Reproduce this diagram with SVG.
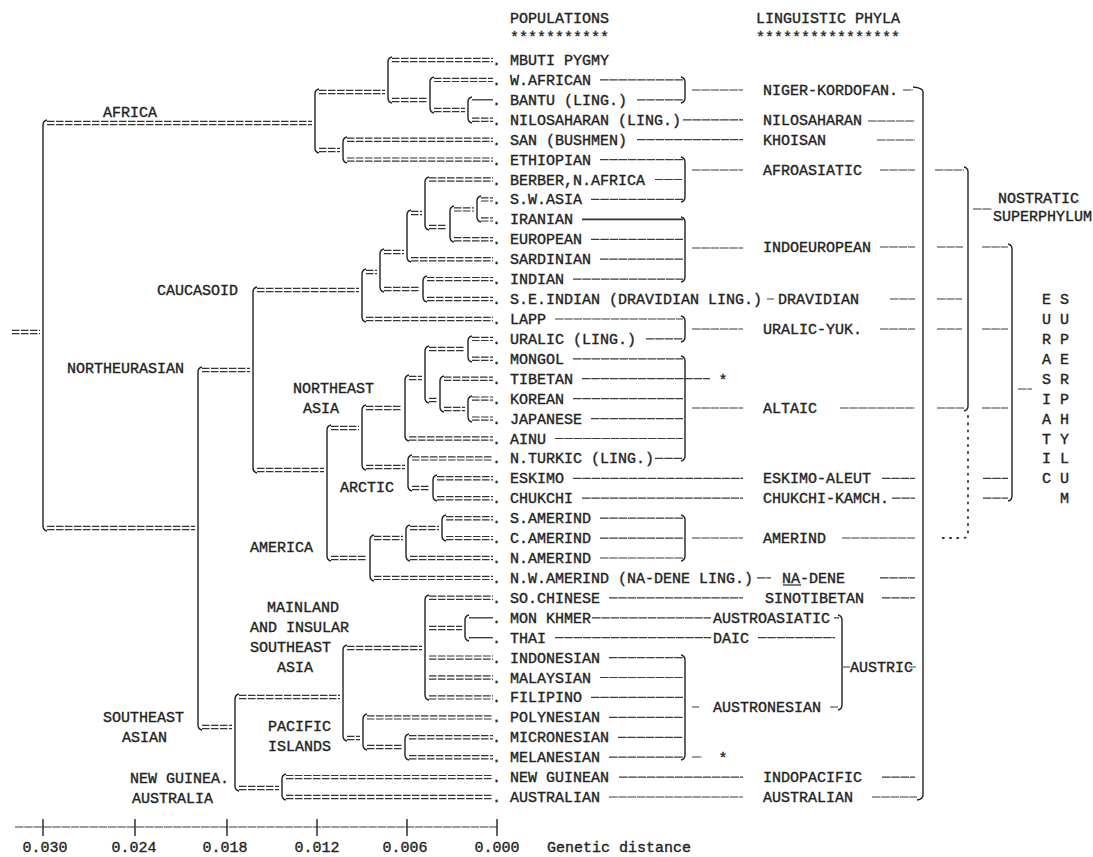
<svg xmlns="http://www.w3.org/2000/svg" width="1093" height="857" viewBox="0 0 1093 857">
<style>
.t{font-family:"Liberation Mono","DejaVu Sans Mono",monospace;font-size:15px;fill:#222;stroke:#222;stroke-width:0.35}
.eq{fill:none;stroke:#333;stroke-width:1.2;stroke-dasharray:7.5 1.5}
.sg{fill:none;stroke:#333;stroke-width:1.3}
.vt{fill:none;stroke:#222;stroke-width:1.4}
.ld{fill:none;stroke:#3a3a3a;stroke-width:1.2;stroke-dasharray:8.5 0.8}
.dt{fill:none;stroke:#333;stroke-width:1.8;stroke-dasharray:1.2 6;stroke-linecap:round}
</style>
<rect width="1093" height="857" fill="#fff"/>
<g id="connectors">
<path class="vt" d="M47 120 Q43 121 43 125 V526 Q43 530 47 531"/>
<path class="vt" d="M319 89 Q315 90 315 94 V148 Q315 152 319 153"/>
<path class="vt" d="M392 57 Q388 58 388 62 V98 Q388 102 392 103"/>
<path class="vt" d="M434 77 Q430 78 430 82 V108 Q430 112 434 113"/>
<path class="vt" d="M472 97 Q468 98 468 102 V118 Q468 122 472 123"/>
<path class="vt" d="M347 137 Q343 138 343 142 V158 Q343 162 347 163"/>
<path class="vt" d="M202 367 Q198 368 198 372 V725 Q198 729 202 730"/>
<path class="vt" d="M257 287 Q253 288 253 292 V468 Q253 472 257 473"/>
<path class="vt" d="M366 269 Q362 270 362 274 V317 Q362 321 366 322"/>
<path class="vt" d="M384 249 Q380 250 380 254 V287 Q380 291 384 292"/>
<path class="vt" d="M411 210 Q407 211 407 215 V257 Q407 261 411 262"/>
<path class="vt" d="M429 177 Q425 178 425 182 V225 Q425 229 429 230"/>
<path class="vt" d="M454 206 Q450 207 450 211 V237 Q450 241 454 242"/>
<path class="vt" d="M481 196 Q477 197 477 201 V217 Q477 221 481 222"/>
<path class="vt" d="M427 276 Q423 277 423 281 V297 Q423 301 427 302"/>
<path class="vt" d="M331 425 Q327 426 327 430 V556 Q327 560 331 561"/>
<path class="vt" d="M366 405 Q362 406 362 410 V465 Q362 469 366 470"/>
<path class="vt" d="M409 375 Q405 376 405 380 V436 Q405 440 409 441"/>
<path class="vt" d="M429 346 Q425 347 425 351 V398 Q425 402 429 403"/>
<path class="vt" d="M472 336 Q468 337 468 341 V357 Q468 361 472 362"/>
<path class="vt" d="M444 376 Q440 377 440 381 V407 Q440 411 444 412"/>
<path class="vt" d="M472 396 Q468 397 468 401 V417 Q468 421 472 422"/>
<path class="vt" d="M412 455 Q408 456 408 460 V486 Q408 490 412 491"/>
<path class="vt" d="M437 475 Q433 476 433 480 V496 Q433 500 437 501"/>
<path class="vt" d="M374 535 Q370 536 370 540 V576 Q370 580 374 581"/>
<path class="vt" d="M410 525 Q406 526 406 530 V556 Q406 560 410 561"/>
<path class="vt" d="M446 515 Q442 516 442 520 V536 Q442 540 446 541"/>
<path class="vt" d="M239 694 Q235 695 235 699 V786 Q235 790 239 791"/>
<path class="vt" d="M347 645 Q343 646 343 650 V736 Q343 740 347 741"/>
<path class="vt" d="M429 595 Q425 596 425 600 V695 Q425 699 429 700"/>
<path class="vt" d="M469 615 Q465 616 465 620 V636 Q465 640 469 641"/>
<path class="vt" d="M367 714 Q363 715 363 719 V745 Q363 749 367 750"/>
<path class="vt" d="M409 734 Q405 735 405 739 V755 Q405 759 409 760"/>
<path class="vt" d="M286 774 Q282 775 282 779 V795 Q282 799 286 800"/>
<path class="eq" d="M12 330.4 H40 M12 333.6 H40"/>
<path class="eq" d="M47 121.4 H312 M47 124.6 H312"/>
<path class="eq" d="M47 526.4 H195 M47 529.6 H195"/>
<path class="eq" d="M319 90.4 H385 M319 93.6 H385"/>
<path class="eq" d="M319 148.4 H340 M319 151.6 H340"/>
<path class="eq" d="M392 58.4 H493 M392 61.6 H493"/>
<path class="eq" d="M392 98.4 H427 M392 101.6 H427"/>
<path class="eq" d="M434 78.3 H493 M434 81.5 H493"/>
<path class="eq" d="M434 108.4 H465 M434 111.6 H465"/>
<path class="sg" d="M472 99.8 H493"/>
<path class="eq" d="M472 118.2 H493 M472 121.4 H493"/>
<path class="eq" d="M347 138.1 H493 M347 141.3 H493"/>
<path class="eq" d="M347 158 H493 M347 161.2 H493"/>
<path class="eq" d="M202 368.4 H250 M202 371.6 H250"/>
<path class="eq" d="M202 725.4 H232 M202 728.6 H232"/>
<path class="eq" d="M257 288.4 H359 M257 291.6 H359"/>
<path class="eq" d="M257 468.4 H324 M257 471.6 H324"/>
<path class="eq" d="M366 270.4 H377 M366 273.6 H377"/>
<path class="eq" d="M366 317.4 H493 M366 320.6 H493"/>
<path class="eq" d="M384 250.4 H404 M384 253.6 H404"/>
<path class="eq" d="M384 287.4 H420 M384 290.6 H420"/>
<path class="eq" d="M411 211.4 H422 M411 214.6 H422"/>
<path class="eq" d="M411 257.6 H493 M411 260.8 H493"/>
<path class="eq" d="M429 177.9 H493 M429 181.1 H493"/>
<path class="eq" d="M429 225.4 H447 M429 228.6 H447"/>
<path class="eq" d="M454 207.8 H474 M454 211 H474"/>
<path class="eq" d="M454 237.7 H493 M454 240.9 H493"/>
<path class="eq" d="M481 197.8 H493 M481 201 H493"/>
<path class="eq" d="M481 217.8 H493 M481 221 H493"/>
<path class="eq" d="M427 277.5 H493 M427 280.7 H493"/>
<path class="eq" d="M427 297.4 H493 M427 300.6 H493"/>
<path class="eq" d="M331 426.4 H359 M331 429.6 H359"/>
<path class="eq" d="M331 556.4 H367 M331 559.6 H367"/>
<path class="eq" d="M366 406.4 H402 M366 409.6 H402"/>
<path class="eq" d="M366 465.4 H405 M366 468.6 H405"/>
<path class="eq" d="M409 376.4 H422 M409 379.6 H422"/>
<path class="eq" d="M409 436.9 H493 M409 440.1 H493"/>
<path class="eq" d="M429 347.4 H465 M429 350.6 H465"/>
<path class="eq" d="M429 398.4 H437 M429 401.6 H437"/>
<path class="eq" d="M472 337.3 H493 M472 340.5 H493"/>
<path class="eq" d="M472 357.2 H493 M472 360.4 H493"/>
<path class="eq" d="M444 377.1 H493 M444 380.3 H493"/>
<path class="eq" d="M444 407.4 H465 M444 410.6 H465"/>
<path class="eq" d="M472 397 H493 M472 400.2 H493"/>
<path class="eq" d="M472 417 H493 M472 420.2 H493"/>
<path class="eq" d="M412 456.8 H493 M412 460 H493"/>
<path class="eq" d="M412 486.4 H430 M412 489.6 H430"/>
<path class="eq" d="M437 476.7 H493 M437 479.9 H493"/>
<path class="eq" d="M437 496.6 H493 M437 499.8 H493"/>
<path class="eq" d="M374 536.4 H403 M374 539.6 H403"/>
<path class="eq" d="M374 576.3 H493 M374 579.5 H493"/>
<path class="eq" d="M410 526.4 H439 M410 529.6 H439"/>
<path class="eq" d="M410 556.4 H493 M410 559.6 H493"/>
<path class="eq" d="M446 516.6 H493 M446 519.8 H493"/>
<path class="eq" d="M446 536.5 H493 M446 539.7 H493"/>
<path class="eq" d="M239 695.4 H340 M239 698.6 H340"/>
<path class="eq" d="M239 786.4 H279 M239 789.6 H279"/>
<path class="eq" d="M347 646.4 H422 M347 649.6 H422"/>
<path class="eq" d="M347 736.4 H360 M347 739.6 H360"/>
<path class="eq" d="M429 596.2 H493 M429 599.4 H493"/>
<path class="eq" d="M429 626.4 H462 M429 629.6 H462"/>
<path class="eq" d="M429 656 H493 M429 659.2 H493"/>
<path class="eq" d="M429 675.9 H493 M429 679.1 H493"/>
<path class="eq" d="M429 695.8 H493 M429 699 H493"/>
<path class="sg" d="M469 617.8 H493"/>
<path class="sg" d="M469 637.7 H493"/>
<path class="eq" d="M367 715.8 H493 M367 719 H493"/>
<path class="eq" d="M367 745.4 H402 M367 748.6 H402"/>
<path class="eq" d="M409 735.7 H493 M409 738.9 H493"/>
<path class="eq" d="M409 755.6 H493 M409 758.8 H493"/>
<path class="eq" d="M286 775.5 H493 M286 778.7 H493"/>
<path class="eq" d="M286 795.4 H493 M286 798.6 H493"/>
<path class="vt" d="M681 77 Q685 78 685 82 V98 Q685 102 681 103"/>
<path class="vt" d="M681 157 Q685 158 685 162 V197 Q685 201 681 202"/>
<path class="vt" d="M681 217 Q685 218 685 222 V277 Q685 281 681 282"/>
<path class="vt" d="M681 316 Q685 317 685 321 V337 Q685 341 681 342"/>
<path class="vt" d="M681 356 Q685 357 685 361 V456 Q685 460 681 461"/>
<path class="vt" d="M681 515 Q685 516 685 520 V556 Q685 560 681 561"/>
<path class="vt" d="M681 655 Q685 656 685 660 V755 Q685 759 681 760"/>
<path class="ld" d="M600 79.9 H683 M637 99.8 H683 M683 119.8 H743 M637 139.7 H743 M600 159.6 H683 M655 179.5 H683 M591 199.4 H683 M591 239.3 H683 M600 259.2 H683 M573 279.1 H683 M767 299 H774 M555 319 H683 M646 338.9 H683 M573 358.8 H683 M582 378.7 H710 M573 398.6 H683 M591 418.6 H683 M555 438.5 H683 M655 458.4 H683 M573 478.3 H743 M582 498.2 H743 M600 518.2 H683 M600 538.1 H683 M600 558 H683 M757 577.9 H771 M609 597.8 H743 M592 617.8 H711 M555 637.7 H711 M609 657.6 H683 M600 677.5 H683 M591 697.4 H683 M609 717.4 H683 M618 737.3 H683 M609 757.2 H683 M619 777.1 H743 M609 797 H743"/>
<path class="sg" d="M582 219.4 H683" style="stroke-width:1.7"/>
<path class="ld" d="M692 90 H743 M692 170 H743 M692 248 H743 M692 329 H743 M692 408 H743 M692 538 H743 M692 707 H699 M692 757 H702"/>
<path class="ld" d="M903 90 H913 M868 121 H915 M877 140 H915 M880 170 H915 M880 247 H915 M890 299 H915 M880 329 H915 M840 408 H915 M882 478.3 H915 M892 498.2 H915 M842 538 H915 M880 577.9 H915 M882 597.8 H915 M882 777.1 H915 M872 797 H917"/>
<path class="ld" d="M834 617.8 H839 M758 637.7 H835 M843 667 H850 M909 667 H916 M830 707 H838"/>
<path class="sg" d="M783 585 H801"/>
<path class="vt" d="M838 615 Q842 616 842 620 V705 Q842 709 838 710"/>
<path class="vt" d="M913 87 Q923 88 923 92 V795 Q923 799 917 800"/>
<path class="vt" d="M964 167 Q968 168 968 172 V406 Q968 410 964 411"/>
<path class="dt" d="M968 416 V533 Q968 538 963 538 H940"/>
<path class="vt" d="M1008 244 Q1012 245 1012 249 V496 Q1012 500 1008 501"/>
<path class="ld" d="M935 170 H964 M937 247 H963 M937 299 H962 M937 329 H962 M937 408 H964 M982 247 H1008 M982 329 H1008 M982 408 H1008 M983 478.3 H1008 M983 498.2 H1008 M973 209 H992 M1018 389 H1032"/>
<path class="ld" d="M15 827 H497"/>
<path class="vt" d="M43 819 V836 M135 819 V836 M227 819 V836 M317 819 V836 M407 819 V836 M497 819 V836"/>
</g>
<g id="headers" class="t">
<text x="510" y="23">POPULATIONS</text>
<text x="510" y="42">***********</text>
<text x="756" y="23">LINGUISTIC PHYLA</text>
<text x="756" y="42">****************</text>
</g>
<g id="populations" class="t">
<text id="pop-mbuti" x="491.9" y="65">. MBUTI PYGMY</text>
<text id="pop-wafrican" x="491.9" y="84.9">. W.AFRICAN</text>
<text id="pop-bantu" x="491.9" y="104.8">. BANTU (LING.)</text>
<text id="pop-nilosaharan" x="491.9" y="124.8">. NILOSAHARAN (LING.)</text>
<text id="pop-san" x="491.9" y="144.7">. SAN (BUSHMEN)</text>
<text id="pop-ethiopian" x="491.9" y="164.6">. ETHIOPIAN</text>
<text id="pop-berber" x="491.9" y="184.5">. BERBER,N.AFRICA</text>
<text id="pop-swasia" x="491.9" y="204.4">. S.W.ASIA</text>
<text id="pop-iranian" x="491.9" y="224.4">. IRANIAN</text>
<text id="pop-european" x="491.9" y="244.3">. EUROPEAN</text>
<text id="pop-sardinian" x="491.9" y="264.2">. SARDINIAN</text>
<text id="pop-indian" x="491.9" y="284.1">. INDIAN</text>
<text id="pop-seindian" x="491.9" y="304">. S.E.INDIAN (DRAVIDIAN LING.)</text>
<text id="pop-lapp" x="491.9" y="324">. LAPP</text>
<text id="pop-uralic" x="491.9" y="343.9">. URALIC (LING.)</text>
<text id="pop-mongol" x="491.9" y="363.8">. MONGOL</text>
<text id="pop-tibetan" x="491.9" y="383.7">. TIBETAN</text>
<text id="pop-korean" x="491.9" y="403.6">. KOREAN</text>
<text id="pop-japanese" x="491.9" y="423.6">. JAPANESE</text>
<text id="pop-ainu" x="491.9" y="443.5">. AINU</text>
<text id="pop-nturkic" x="491.9" y="463.4">. N.TURKIC (LING.)</text>
<text id="pop-eskimo" x="491.9" y="483.3">. ESKIMO</text>
<text id="pop-chukchi" x="491.9" y="503.2">. CHUKCHI</text>
<text id="pop-samerind" x="491.9" y="523.2">. S.AMERIND</text>
<text id="pop-camerind" x="491.9" y="543.1">. C.AMERIND</text>
<text id="pop-namerind" x="491.9" y="563">. N.AMERIND</text>
<text id="pop-nwamerind" x="491.9" y="582.9">. N.W.AMERIND (NA-DENE LING.)</text>
<text id="pop-sochinese" x="491.9" y="602.8">. SO.CHINESE</text>
<text id="pop-monkhmer" x="491.9" y="622.8">. MON KHMER</text>
<text id="pop-thai" x="491.9" y="642.7">. THAI</text>
<text id="pop-indonesian" x="491.9" y="662.6">. INDONESIAN</text>
<text id="pop-malaysian" x="491.9" y="682.5">. MALAYSIAN</text>
<text id="pop-filipino" x="491.9" y="702.4">. FILIPINO</text>
<text id="pop-polynesian" x="491.9" y="722.4">. POLYNESIAN</text>
<text id="pop-micronesian" x="491.9" y="742.3">. MICRONESIAN</text>
<text id="pop-melanesian" x="491.9" y="762.2">. MELANESIAN</text>
<text id="pop-newguinean" x="491.9" y="782.1">. NEW GUINEAN</text>
<text id="pop-australian" x="491.9" y="802">. AUSTRALIAN</text>
<text x="718.5" y="385">*</text>
<text x="718.5" y="763">*</text>
</g>
<g id="clades" class="t">
<text id="clade-africa" x="103" y="117">AFRICA</text>
<text id="clade-northeurasian" x="67" y="373">NORTHEURASIAN</text>
<text id="clade-caucasoid" x="157" y="295">CAUCASOID</text>
<g id="clade-neasia"><text x="293" y="393">NORTHEAST</text><text x="303" y="413">ASIA</text></g>
<text id="clade-arctic" x="340" y="492">ARCTIC</text>
<text id="clade-america" x="250" y="552">AMERICA</text>
<g id="clade-mainland"><text x="267" y="612">MAINLAND</text><text x="250" y="632">AND INSULAR</text><text x="250" y="652">SOUTHEAST</text><text x="277" y="672">ASIA</text></g>
<g id="clade-pacific"><text x="268" y="731">PACIFIC</text><text x="268" y="751">ISLANDS</text></g>
<g id="clade-seasian"><text x="103" y="722">SOUTHEAST</text><text x="122" y="742">ASIAN</text></g>
<g id="clade-ngaus"><text x="130" y="783">NEW GUINEA.</text><text x="132" y="803">AUSTRALIA</text></g>
</g>
<g id="phyla" class="t">
<text x="763" y="95">NIGER-KORDOFAN.</text>
<text x="763" y="124.8">NILOSAHARAN</text>
<text x="763" y="144.7">KHOISAN</text>
<text x="763" y="175">AFROASIATIC</text>
<text x="763" y="252">INDOEUROPEAN</text>
<text x="778" y="304">DRAVIDIAN</text>
<text x="763" y="334">URALIC-YUK.</text>
<text x="763" y="413">ALTAIC</text>
<text x="763" y="483.3">ESKIMO-ALEUT</text>
<text x="763" y="503.2">CHUKCHI-KAMCH.</text>
<text x="763" y="543">AMERIND</text>
<text x="782" y="582.9">NA-DENE</text>
<text x="765" y="602.8">SINOTIBETAN</text>
<text x="713" y="622.8">AUSTROASIATIC</text>
<text x="713" y="642.7">DAIC</text>
<text x="850" y="672">AUSTRIC</text>
<text x="713" y="712">AUSTRONESIAN</text>
<text x="763" y="782.1">INDOPACIFIC</text>
<text x="763" y="802">AUSTRALIAN</text>
</g>
<g id="superphyla" class="t">
<text x="998" y="203">NOSTRATIC</text>
<text x="993" y="221">SUPERPHYLUM</text>
<g id="eurasiatic">
<text x="1042" y="304">E</text><text x="1042" y="324">U</text><text x="1042" y="343.9">R</text><text x="1042" y="363.8">A</text><text x="1042" y="383.7">S</text><text x="1042" y="403.6">I</text><text x="1042" y="423.6">A</text><text x="1042" y="443.5">T</text><text x="1042" y="463.4">I</text><text x="1042" y="483.3">C</text>
<text x="1060" y="304">S</text><text x="1060" y="324">U</text><text x="1060" y="343.9">P</text><text x="1060" y="363.8">E</text><text x="1060" y="383.7">R</text><text x="1060" y="403.6">P</text><text x="1060" y="423.6">H</text><text x="1060" y="443.5">Y</text><text x="1060" y="463.4">L</text><text x="1060" y="483.3">U</text><text x="1060" y="503.2">M</text>
</g>
</g>
<g id="axis" class="t" text-anchor="middle">
<text x="45" y="852">0.030</text>
<text x="134" y="852">0.024</text>
<text x="225" y="852">0.018</text>
<text x="317" y="852">0.012</text>
<text x="405" y="852">0.006</text>
<text x="497" y="852">0.000</text>
<text x="547" y="852" text-anchor="start">Genetic distance</text>
</g>
</svg>
